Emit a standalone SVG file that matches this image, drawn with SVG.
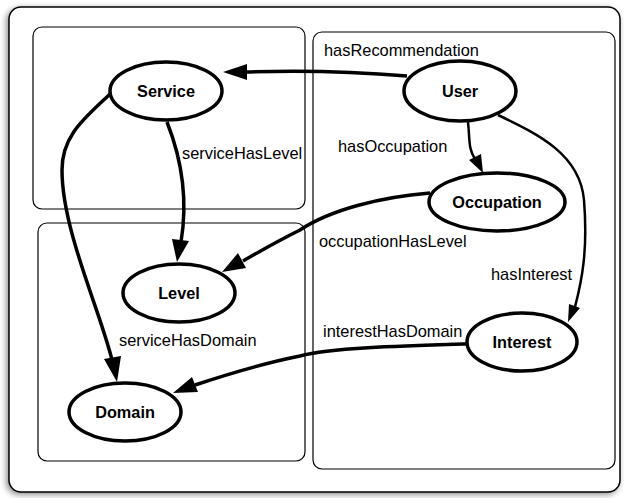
<svg xmlns="http://www.w3.org/2000/svg" width="624" height="498" viewBox="0 0 624 498">
  <style>
    .frame { fill: #fff; stroke: #000; stroke-width: 1.5; }
    .cluster { fill: none; stroke: #000; stroke-width: 1.2; }
    .node ellipse { fill: #fff; stroke: #000; stroke-width: 3.5; }
    .node text { font-family: "Liberation Sans", Arial, sans-serif; font-weight: bold; font-size: 16.3px; text-anchor: middle; fill: #000; }
    .edge { fill: none; stroke: #000; stroke-width: 3.5; }
    .edge.thin { stroke-width: 2.5; }
    .head { fill: #000; stroke: none; }
    .lbl { font-family: "Liberation Sans", Arial, sans-serif; font-size: 16.4px; fill: #000; }
  </style>
  <defs>
    <filter id="shadow" x="-5%" y="-5%" width="110%" height="110%">
      <feGaussianBlur in="SourceAlpha" stdDeviation="3"/>
      <feOffset dx="-2" dy="2" result="b"/>
      <feComponentTransfer><feFuncA type="linear" slope="0.45"/></feComponentTransfer>
      <feMerge><feMergeNode/><feMergeNode in="SourceGraphic"/></feMerge>
    </filter>
  </defs>
  <rect width="624" height="498" fill="#fff"/>
  <!-- outer frame -->
  <rect class="frame" x="9" y="7" width="611" height="485" rx="12" filter="url(#shadow)"/>
  <!-- clusters -->
  <g id="clusters">
    <rect class="cluster" x="33" y="27" width="272" height="182" rx="9"/>
    <rect class="cluster" x="38" y="223" width="267" height="238" rx="9"/>
    <rect class="cluster" x="313" y="32" width="302" height="437" rx="9"/>
  </g>
  <!-- connectors -->
  <g id="edges">
    <!-- hasRecommendation -->
    <path class="edge" d="M407,76 C360,72 300,70 245,72"/>
    <polygon class="head" points="223,72 247,64 247,80"/>
    <!-- serviceHasLevel -->
    <path class="edge" d="M167,122 C182,160 188,200 181,242"/>
    <polygon class="head" points="177,262 172,239 189,241"/>
    <!-- serviceHasDomain -->
    <path class="edge" d="M110,94 C85,118 62,135 62,170 C62,230 100,310 112,360"/>
    <polygon class="head" points="117,382 104,359 121,356"/>
    <!-- hasOccupation -->
    <path class="edge thin" d="M468,122 C470,140 468,148 475,159"/>
    <polygon class="head" points="483,173 469,160 481,154"/>
    <!-- hasInterest -->
    <path class="edge thin" d="M498,115 C540,135 580,155 584,200 C588,250 582,280 575,307"/>
    <polygon class="head" points="568,322 569,304 580,308"/>
    <!-- occupationHasLevel -->
    <path class="edge" d="M430,193 C380,197 330,210 300,230 C280,240 262,250 243,261"/>
    <polygon class="head" points="222,272 238,253 246,268"/>
    <!-- interestHasDomain -->
    <path class="edge" d="M466,344 C400,346 330,348 300,356 C260,364 225,375 195,385"/>
    <polygon class="head" points="173,393 192,377 198,392"/>
  </g>
  <!-- edge labels -->
  <g id="labels">
    <text class="lbl" x="324" y="56">hasRecommendation</text>
    <text class="lbl" x="182" y="159">serviceHasLevel</text>
    <text class="lbl" x="338" y="152">hasOccupation</text>
    <text class="lbl" x="319" y="247">occupationHasLevel</text>
    <text class="lbl" x="491" y="280">hasInterest</text>
    <text class="lbl" x="323" y="337">interestHasDomain</text>
    <text class="lbl" x="119" y="346">serviceHasDomain</text>
  </g>
  <!-- nodes -->
  <g id="Service" class="node"><ellipse cx="166" cy="91" rx="56" ry="29"/><text x="166" y="97">Service</text></g>
  <g id="User" class="node"><ellipse cx="460" cy="91" rx="56" ry="30"/><text x="460" y="97">User</text></g>
  <g id="Occupation" class="node"><ellipse cx="497" cy="202" rx="68" ry="29"/><text x="497" y="208">Occupation</text></g>
  <g id="Level" class="node"><ellipse cx="179" cy="293" rx="56" ry="29"/><text x="179" y="299">Level</text></g>
  <g id="Domain" class="node"><ellipse cx="125" cy="412" rx="56" ry="29"/><text x="125" y="418">Domain</text></g>
  <g id="Interest" class="node"><ellipse cx="522" cy="342" rx="55" ry="29"/><text x="522" y="348">Interest</text></g>
</svg>
